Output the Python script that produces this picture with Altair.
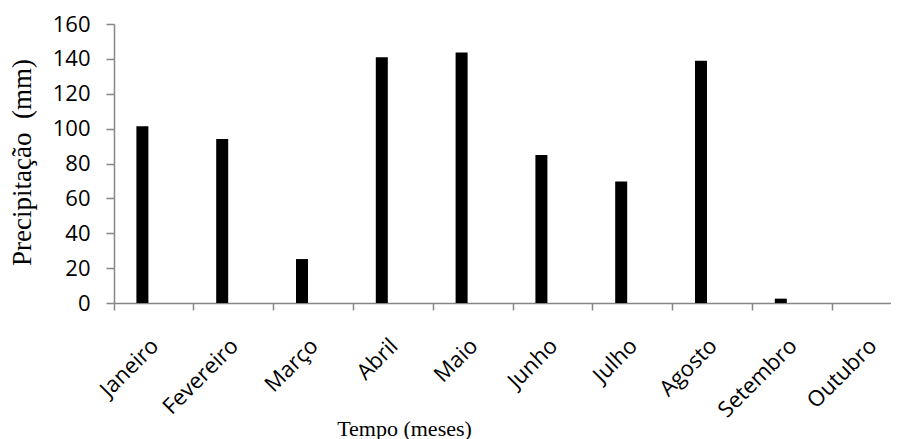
import altair as alt
import pandas as pd

months = ["Janeiro", "Fevereiro", "Março", "Abril", "Maio", "Junho",
          "Julho", "Agosto", "Setembro", "Outubro"]
precip = [101.3, 94.0, 25.2, 141.0, 143.7, 84.9, 69.7, 138.9, 2.5, 0.0]
y_ticks = [0, 20, 40, 60, 80, 100, 120, 140, 160]

df = pd.DataFrame({"mes": months, "mm": precip})

axis_gray = "#868686"

chart = alt.Chart(df).mark_bar(color="black", size=12, xOffset=-11.5).encode(
    x=alt.X("mes:N", sort=months,
            scale=alt.Scale(domain=months, range=[0, 798], paddingInner=0, paddingOuter=0),
            axis=alt.Axis(title="Tempo (meses)", bandPosition=0, labelOffset=1,
                          labelAngle=-45, labelAlign="right", labelBaseline="middle",
                          labelPadding=32, tickSize=7, labelFont="Open Sans",
                          labelFontSize=22, labelColor="black",
                          domainColor=axis_gray, tickColor=axis_gray,
                          domainWidth=1.5, tickWidth=1.5,
                          titleFont="Liberation Serif", titleFontSize=22,
                          titleFontWeight="normal", titleColor="black",
                          titleX=290, titleY=132, titleAlign="center",
                          titleBaseline="alphabetic")),
    y=alt.Y("mm:Q", scale=alt.Scale(domain=[0, 160], nice=False),
            axis=alt.Axis(title="Precipitação\u00a0 (mm)", values=y_ticks, grid=False,
                          tickSize=8, labelPadding=16, labelFont="Open Sans",
                          labelFontSize=22, labelColor="black",
                          domainColor=axis_gray, tickColor=axis_gray,
                          domainWidth=1.5, tickWidth=1.5,
                          titleFont="Liberation Serif", titleFontSize=27,
                          titleFontWeight="normal", titleColor="black",
                          titleX=-84, titleY=138, titleAngle=-90,
                          titleAlign="center", titleBaseline="alphabetic")),
).properties(
    width=777, height=279,
    autosize=alt.AutoSizeParams(type="none"),
    padding={"left": 106, "top": 16, "right": 0, "bottom": 140},
).configure_view(stroke=None)

chart.save("out.html", embed_options={"renderer": "svg", "actions": False})
